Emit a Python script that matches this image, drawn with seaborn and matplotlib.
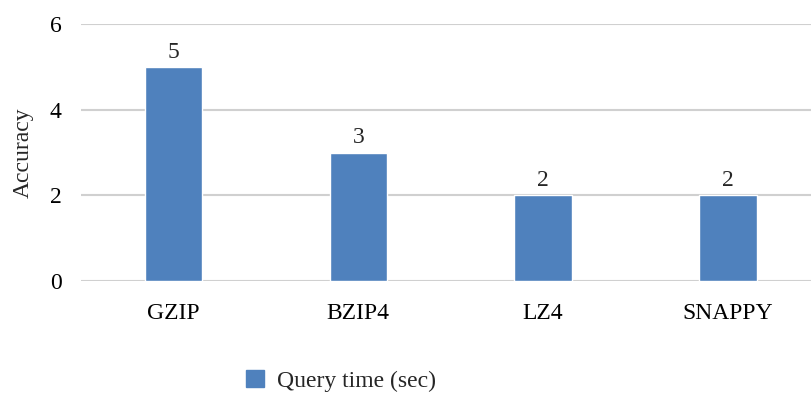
import matplotlib
matplotlib.use("Agg")
import matplotlib.pyplot as plt
import seaborn as sns
import pandas as pd

categories = ["GZIP", "BZIP4", "LZ4", "SNAPPY"]
query_time = [5, 3, 2, 2]
series_name = "Query time (sec)"
y_ticks = [0, 2, 4, 6]

sns.set_theme(style="white")
plt.rcParams["font.family"] = ["Liberation Serif", "DejaVu Serif"]

df = pd.DataFrame({"method": categories, "value": query_time, "series": series_name})

fig = plt.figure(figsize=(8.11, 3.99), dpi=100)
ax = fig.add_axes([81 / 811, 1 - 281 / 399, 730 / 811, 257 / 399])

sns.barplot(data=df, x="method", y="value", hue="series", palette=["#4F81BD"],
            width=0.31, ax=ax, legend=False, saturation=1)

for c in ax.containers:
    ax.bar_label(c, labels=[f"{v:g}" for v in query_time], padding=3, fontsize=17)

ax.set_ylim(0, 6)
ax.set_xlim(-0.5, 3.449)
ax.set_yticks(y_ticks)
ax.yaxis.grid(True, color="#D0D0D0", linewidth=1.5)
ax.set_axisbelow(True)
for s in ax.spines.values():
    s.set_visible(False)
ax.tick_params(axis="both", length=0, labelsize=17, colors="black")
ax.tick_params(axis="x", pad=16)
ax.tick_params(axis="y", pad=14)
ax.set_xlabel("")
ax.set_ylabel("Accuracy", fontsize=17)
ax.yaxis.set_label_coords(-47 / 730, 0.5)

handle = plt.Rectangle((0, 0), 1, 1, color="#4F81BD")
fig.legend([handle], [series_name], loc="center", bbox_to_anchor=(341 / 811, 1 - 381 / 399),
           frameon=False, fontsize=17, handlelength=0.75, handleheight=0.75, handletextpad=0.55)

fig.savefig("out.png", dpi=100)
